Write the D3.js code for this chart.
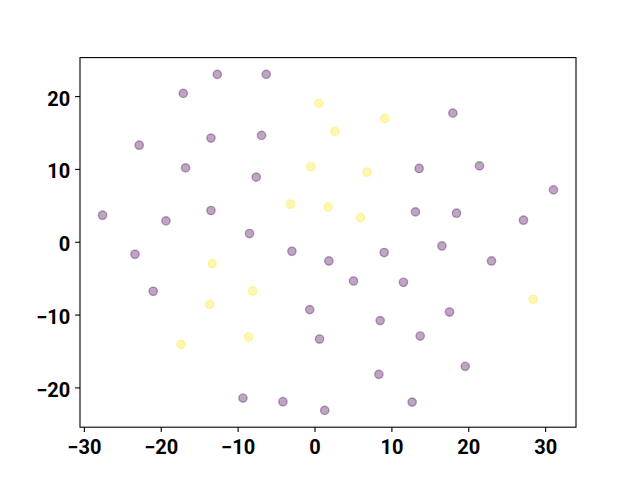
<!DOCTYPE html>
<html>
<head>
<meta charset="utf-8">
<script src="https://cdn.jsdelivr.net/npm/d3@7"></script>
<style>
  body { margin: 0; background: #fff; }
  text { font-family: Roboto, "DejaVu Sans", sans-serif; font-weight: bold; }
</style>
</head>
<body>
<div id="chart"></div>
<script>
// point coordinates, group 0 = purple, 1 = yellow
const xs = [-12.65, -6.28, -17.07, -22.80, -13.47, -6.89, -16.77, -7.58, -27.57, -19.32,
            -13.47, -8.45, 18.00, 13.61, 21.46, 31.08, 13.13, 18.47, 27.18, 16.57,
            9.06, -23.35, -2.94, 1.87, 23.02, -20.98, 5.07, 11.57, -0.62, 8.54,
            17.56, 0.65, 13.75, 19.60, 8.37, -9.31, -4.11, 1.33, 12.70,
            0.57, 9.15, 2.65, -0.49, 6.85, -3.12, 1.78, 5.98, -13.30, -8.06,
            -13.65, -8.58, -17.37, 28.44]
const ys = [22.98, 22.98, 20.37, 13.26, 14.23, 14.60, 10.14, 8.87, 3.64, 2.86,
            4.29, 1.13, 17.66, 10.06, 10.42, 7.12, 4.10, 3.92, 2.96, -0.58,
            -1.48, -1.72, -1.31, -2.64, -2.64, -6.80, -5.39, -5.57, -9.32, -10.83,
            -9.65, -13.36, -12.95, -17.11, -18.21, -21.47, -21.97, -23.16, -22.02,
            19.00, 16.93, 15.15, 10.28, 9.55, 5.15, 4.78, 3.33, -3.00, -6.76,
            -8.59, -13.09, -14.09, -7.90]
const groups = [0,0,0,0,0,0,0,0,0,0, 0,0,0,0,0,0,0,0,0,0,
                0,0,0,0,0,0,0,0,0,0, 0,0,0,0,0,0,0,0,0,
                1,1,1,1,1,1,1,1,1,1, 1,1,1,1]
const xTicks = [-30, -20, -10, 0, 10, 20, 30]
const yTicks = [-20, -10, 0, 10, 20]

const width = 640, height = 480
const margin = {left: 80, right: 64, top: 57.6, bottom: 52.8}

const points = xs.map((x, i) => ({x: x, y: ys[i], g: groups[i]}))

// matplotlib style 5% padding round the data
function padded(ext) {
  const p = (ext[1] - ext[0]) * 0.05
  return [ext[0] - p, ext[1] + p]
}

const x = d3.scaleLinear()
  .domain(padded(d3.extent(xs)))
  .range([margin.left, width - margin.right])
const y = d3.scaleLinear()
  .domain(padded(d3.extent(ys)))
  .range([height - margin.bottom, margin.top])

const color = d3.scaleOrdinal().domain([0, 1]).range(["#440154", "#fde725"])

const svg = d3.select("#chart").append("svg")
  .attr("width", width)
  .attr("height", height)

svg.append("rect").attr("width", width).attr("height", height).attr("fill", "#fff")

svg.selectAll("circle.pt")
  .data(points)
  .enter()
  .append("circle")
    .attr("class", "pt")
    .attr("cx", d => x(d.x))
    .attr("cy", d => y(d.y))
    .attr("r", 4.17)
    .attr("fill", d => color(d.g))
    .attr("stroke", d => color(d.g))
    .attr("stroke-width", 1.4)
    .attr("fill-opacity", 0.35)
    .attr("stroke-opacity", 0.35)

// axes
const xAxis = svg.append("g")
  .attr("transform", "translate(0," + (height - margin.bottom) + ")")
  .call(d3.axisBottom(x).tickValues(xTicks).tickSize(4.9).tickPadding(4.9).tickSizeOuter(0))
const yAxis = svg.append("g")
  .attr("transform", "translate(" + margin.left + ",0)")
  .call(d3.axisLeft(y).tickValues(yTicks).tickSize(4.9).tickPadding(4.9).tickSizeOuter(0))

for (const ax of [xAxis, yAxis]) {
  ax.select(".domain").remove()
  ax.selectAll(".tick line").attr("stroke", "#000").attr("stroke-width", 1.1)
  ax.selectAll(".tick text")
    .attr("fill", "#000")
    .style("font-size", "20px")
    .style("font-weight", "bold")
}
xAxis.selectAll(".tick text").attr("dy", "0.84em")
yAxis.selectAll(".tick text").attr("dy", "0.45em")

// frame
svg.append("rect")
  .attr("x", margin.left)
  .attr("y", margin.top)
  .attr("width", width - margin.left - margin.right)
  .attr("height", height - margin.top - margin.bottom)
  .attr("fill", "none")
  .attr("stroke", "#000")
  .attr("stroke-width", 1.1)
</script>
</body>
</html>
